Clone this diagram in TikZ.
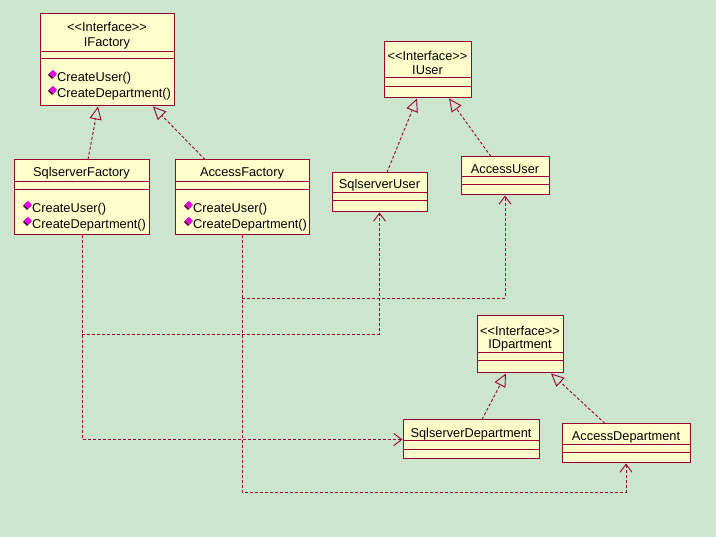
\documentclass[tikz,border=0pt]{standalone}
\usepackage{fontspec}
\setmainfont{Liberation Sans}
\usetikzlibrary{arrows.meta,calc}
\definecolor{bgc}{RGB}{204,230,206}
\definecolor{boxfill}{RGB}{255,255,204}
\definecolor{edge}{RGB}{153,0,51}
\definecolor{icon}{RGB}{230,0,230}
\tikzset{
  cls/.style={draw=edge, fill=boxfill, line width=1pt, rectangle, inner sep=0pt},
  sep/.style={draw=edge, line width=1pt},
  txt/.style={font=\fontsize{12.8}{14}\selectfont, inner sep=0pt, text=black, yshift=-1.5pt},
  mtxt/.style={txt, anchor=west},
  real/.style={draw=edge, line width=0.9pt, dash pattern=on 3pt off 2pt, -{Triangle[open, length=13pt, width=12pt, line width=0.9pt]}},
  dep/.style={draw=edge, line width=0.9pt, dash pattern=on 3pt off 2pt, -{Straight Barb[length=8pt, width=12pt, line width=0.9pt]}},
}
\newcommand{\methicon}[2]{%
  \fill[black!70!edge] (#1-1,#2+1) -- ++(-4,-4) -- ++(4,-4) -- ++(4,4) -- cycle;
  \fill[icon] (#1,#2) -- ++(-4,-4) -- ++(4,-4) -- ++(4,4) -- cycle;
}
\newcommand{\stereo}{<{}<Interface>{}>}
\begin{document}
\begin{tikzpicture}[x=1pt,y=-1pt]
\useasboundingbox (0,0) rectangle (716,537);
\fill[bgc] (0,0) rectangle (716,537);

% IFactory
\node[cls, minimum width=134pt, minimum height=92pt] (if) at (107,60) {};
\draw[sep] (40,52) -- (174,52);
\draw[sep] (40,59) -- (174,59);
\node[txt] (ift) at (107,25) {\stereo};
\node[txt] (ifn) at (107,42) {IFactory};
\methicon{53}{78}
\node[mtxt] (ifm1) at (57,77) {CreateUser()};
\methicon{53}{94}
\node[mtxt] (ifm2) at (57,93) {CreateDepartment()};

% SqlserverFactory
\node[cls, minimum width=135pt, minimum height=75pt] (sf) at (81.5,197.5) {};
\draw[sep] (14,182) -- (149,182);
\draw[sep] (14,190) -- (149,190);
\node[txt] (sfn) at (81.5,172) {SqlserverFactory};
\methicon{28}{209}
\node[mtxt] (sfm1) at (32,208) {CreateUser()};
\methicon{28}{225}
\node[mtxt] (sfm2) at (32,224) {CreateDepartment()};

% AccessFactory
\node[cls, minimum width=134pt, minimum height=75pt] (af) at (242,197.5) {};
\draw[sep] (175,182) -- (309,182);
\draw[sep] (175,190) -- (309,190);
\node[txt] (afn) at (242,172) {AccessFactory};
\methicon{189}{209}
\node[mtxt] (afm1) at (193,208) {CreateUser()};
\methicon{189}{225}
\node[mtxt] (afm2) at (193,224) {CreateDepartment()};

% IUser
\node[cls, minimum width=87pt, minimum height=56pt] (iu) at (427.5,70) {};
\draw[sep] (384,78) -- (471,78);
\draw[sep] (384,87) -- (471,87);
\node[txt] (iut) at (427.5,54) {\stereo};
\node[txt] (iun) at (427.5,69) {IUser};

% SqlserverUser
\node[cls, minimum width=95pt, minimum height=39pt] (su) at (379.5,192.5) {};
\draw[sep] (332,193) -- (427,193);
\draw[sep] (332,201) -- (427,201);
\node[txt] (sun) at (379.5,184) {SqlserverUser};

% AccessUser
\node[cls, minimum width=88pt, minimum height=38pt] (au) at (505,176) {};
\draw[sep] (461,177) -- (549,177);
\draw[sep] (461,185) -- (549,185);
\node[txt] (aun) at (505,168) {AccessUser};

% IDpartment
\node[cls, minimum width=86pt, minimum height=57pt] (id) at (520,344.5) {};
\draw[sep] (477,353) -- (563,353);
\draw[sep] (477,361) -- (563,361);
\node[txt] (idt) at (520,329) {\stereo};
\node[txt] (idn) at (520,344) {IDpartment};

% SqlserverDepartment
\node[cls, minimum width=136pt, minimum height=39pt] (sd) at (471,439.5) {};
\draw[sep] (403,441) -- (539,441);
\draw[sep] (403,450) -- (539,450);
\node[txt] (sdn) at (471,433) {SqlserverDepartment};

% AccessDepartment
\node[cls, minimum width=128pt, minimum height=39pt] (ad) at (626,443.5) {};
\draw[sep] (562,445) -- (690,445);
\draw[sep] (562,453) -- (690,453);
\node[txt] (adn) at (626,436) {AccessDepartment};

% realizations
\draw[real] ([xshift=6.5pt]sf.north) -- ([xshift=-9pt]if.south);
\draw[real] ([xshift=-37pt]af.north) -- ([xshift=46pt]if.south);
\draw[real] ([xshift=7.5pt]su.north) -- ([xshift=-10.5pt]iu.south);
\draw[real] ([xshift=-14pt]au.north) -- ([xshift=21.5pt]iu.south);
\draw[real] ([xshift=11pt]sd.north) -- ([xshift=-14pt]id.south);
\draw[real] ([xshift=-21pt]ad.north) -- ([xshift=31pt]id.south);

% dependencies
\coordinate (j1) at (82,334);
\coordinate (j2) at (242,298);
\draw[dep] ([xshift=0.5pt]sf.south) |- (sd.west);
\draw[dep] (j1) -| (su.south);
\draw[dep] (af.south) -- ++(0,257) -| (ad.south);
\draw[dep] (j2) -| (au.south);
\end{tikzpicture}
\end{document}
